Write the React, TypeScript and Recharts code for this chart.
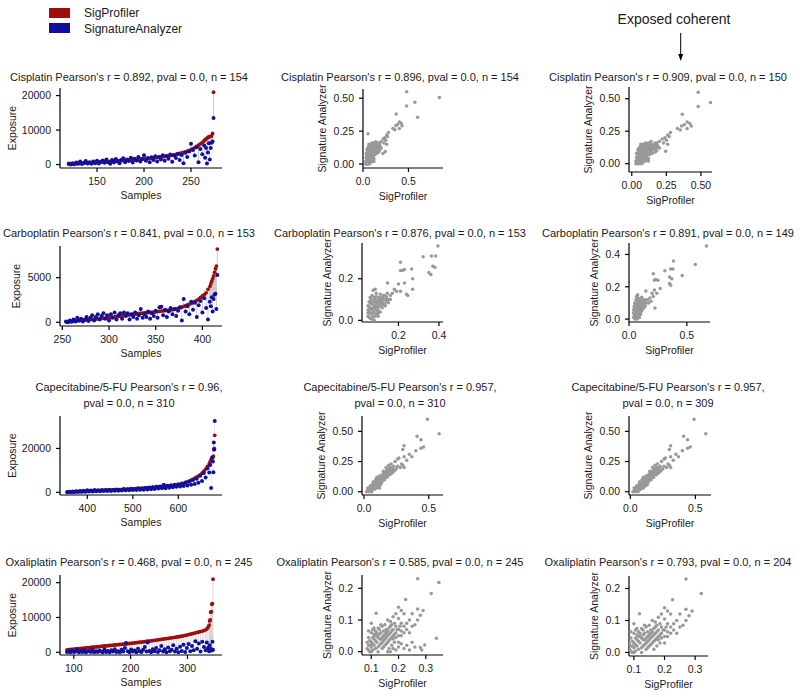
import React from "react";
import { ComposedChart, ScatterChart, Scatter, Bar, XAxis, YAxis } from "recharts";

const RED = "#a00d0d";
const BLUE = "#10109e";
const GREY = "#999999";
const FONT = '"Liberation Sans", Arial, sans-serif';
const INK = "#1a1a1a";

// exposure per sample: [sample, SigProfiler, SignatureAnalyzer]
const cisplatinRows = [
  [120, 100, 300], [122, 150, 50], [124, 200, 400], [126, 250, 100], [128, 300, 600], [130, 330, 200],
  [132, 360, 900], [134, 400, 150], [136, 430, 500], [138, 460, 1000], [140, 500, 300], [142, 530, 700],
  [144, 560, 200], [146, 600, 900], [148, 630, 400], [150, 660, 1100], [152, 700, 300], [154, 730, 800],
  [156, 760, 1200], [158, 800, 500], [160, 830, 1500], [162, 860, 700], [164, 900, 200], [166, 940, 1300],
  [168, 980, 600], [170, 1020, 1600], [172, 1060, 900], [174, 1100, 400], [176, 1140, 1400], [178, 1180, 1800],
  [180, 1220, 700], [182, 1260, 1500], [184, 1300, 1000], [186, 1340, 2000], [188, 1380, 600], [190, 1420, 1700],
  [192, 1460, 1200], [194, 1500, 2200], [196, 1540, 900], [198, 1580, 1600], [200, 1620, 2700], [202, 1680, 1100],
  [204, 1740, 1900], [206, 1800, 700], [208, 1860, 2100], [210, 1920, 1300], [212, 1990, 2400], [214, 2060, 900],
  [216, 2130, 2200], [218, 2200, 1500], [220, 2280, 2700], [222, 2360, 1100], [224, 2440, 2500], [226, 2530, 1700],
  [228, 2620, 2900], [230, 2720, 800], [232, 2820, 2600], [234, 2930, 1900], [236, 3050, 3100], [238, 3200, 1300],
  [240, 3350, 2800], [242, 3500, 400], [244, 3680, 3400], [246, 3860, 2200], [248, 4060, 3800], [250, 4300, 6000],
  [252, 4600, 4200], [254, 4900, 2600], [256, 5250, 5000], [258, 5600, 700], [260, 6000, 4500], [262, 6400, 3000],
  [264, 6900, 5500], [265, 7200, 2000], [266, 7400, 4800], [267, 7600, 300], [268, 7900, 3500], [269, 8000, 6200],
  [270, 8100, 1500], [271, 8200, 4800], [272, 8300, 6300], [273, 9000, 6700], [274, 21000, 13500],
];

const carboplatinRows = [
  [254, 50, 100], [256, 70, 0], [258, 90, 200], [260, 110, 50], [262, 130, 300], [264, 150, 100],
  [266, 170, 500], [268, 190, 200], [270, 210, 400], [272, 230, 100], [274, 250, 300], [276, 270, 600],
  [278, 290, 150], [280, 310, 500], [282, 330, 800], [284, 350, 200], [286, 370, 600], [288, 390, 900],
  [290, 410, 300], [292, 430, 700], [294, 450, 1000], [296, 470, 400], [298, 490, 800], [300, 510, 200],
  [302, 540, 900], [304, 570, 500], [306, 600, 1100], [308, 630, 300], [310, 660, 800], [312, 690, 1000],
  [314, 720, 400], [316, 750, 1100], [318, 780, 700], [320, 810, 1000], [322, 840, 300], [324, 870, 900],
  [326, 900, 600], [328, 930, 1100], [330, 960, 400], [332, 990, 800], [334, 1010, 1500], [336, 1030, 500],
  [338, 1050, 900], [340, 1070, 600], [342, 1090, 1200], [344, 1110, 400], [346, 1130, 1000], [348, 1150, 700],
  [350, 1170, 1300], [352, 1200, 500], [354, 1230, 1700], [356, 1260, 1750], [358, 1290, 800], [360, 1310, 1400],
  [362, 1330, 600], [364, 1360, 1200], [366, 1390, 1600], [368, 1420, 900], [370, 1450, 1500], [372, 1500, 700],
  [374, 1560, 1300], [376, 1620, 1700], [378, 1700, 200], [380, 1780, 2600], [382, 1860, 1200], [384, 1940, 1800],
  [386, 2030, 900], [388, 2120, 2300], [390, 2220, 1400], [392, 2330, 2200], [394, 2450, 600], [396, 2600, 1900],
  [398, 2800, 2400], [400, 2950, 1100], [402, 3100, 2700], [404, 3300, 1600], [406, 3700, 300], [408, 4000, 2300],
  [409, 4300, 1800], [410, 4600, 2800], [411, 4900, 1200], [412, 5200, 2600], [413, 5600, 3100], [414, 6000, 3200],
  [415, 6300, 1500], [416, 8200, 5300],
];

const capecitabineRows = [
  [356, 150, 50], [360, 180, 300], [364, 210, 100], [368, 240, 400], [372, 270, 150], [376, 300, 500],
  [380, 330, 200], [384, 360, 600], [388, 390, 250], [392, 420, 700], [396, 460, 300], [400, 500, 900],
  [404, 540, 350], [408, 580, 800], [412, 620, 400], [416, 660, 1000], [420, 700, 450], [424, 740, 900],
  [428, 780, 500], [432, 820, 1100], [436, 860, 550], [440, 900, 1000], [444, 940, 600], [448, 980, 1200],
  [452, 1020, 650], [456, 1060, 1100], [460, 1100, 700], [464, 1140, 1300], [468, 1180, 750], [472, 1220, 1200],
  [476, 1260, 800], [480, 1300, 1500], [484, 1340, 900], [488, 1380, 1400], [492, 1420, 950], [496, 1460, 1600],
  [500, 1500, 1000], [504, 1560, 1500], [508, 1620, 1100], [512, 1680, 1800], [516, 1740, 1150], [520, 1800, 1700],
  [524, 1860, 1200], [528, 1920, 2000], [532, 1990, 1300], [536, 2060, 2200], [540, 2130, 1400], [544, 2200, 2300],
  [548, 2280, 1500], [552, 2360, 2500], [556, 2440, 1700], [560, 2520, 2600], [564, 2600, 1800], [568, 2680, 3500],
  [572, 2760, 1900], [576, 2840, 3000], [580, 2920, 2100], [584, 3000, 3200], [588, 3080, 2300], [592, 3160, 3400],
  [596, 3240, 2500], [600, 3300, 3700], [604, 3550, 2700], [608, 3800, 4000], [612, 4100, 2900], [616, 4400, 4500],
  [620, 4750, 3100], [624, 5100, 4900], [628, 5500, 3500], [632, 5900, 5600], [636, 6400, 3800], [640, 6900, 6200],
  [644, 7400, 4300], [648, 7900, 7500], [652, 8700, 5200], [656, 9600, 8800], [660, 10600, 6800], [664, 11800, 11000],
  [668, 13000, 9000], [670, 14000, 12500], [672, 14800, 2000], [674, 15500, 15800], [676, 16000, 14000],
  [677, 16500, 9200], [678, 19500, 22700], [679, 20000, 19500], [680, 26000, 32500],
];

const oxaliplatinRows = [
  [88, 700, 100], [91, 750, 300], [94, 800, 0], [97, 850, 500], [100, 900, 100], [103, 950, 200],
  [106, 1000, 800], [109, 1050, 0], [112, 1100, 300], [115, 1150, 100], [118, 1200, 600], [121, 1250, 0],
  [124, 1300, 200], [127, 1350, 400], [130, 1400, 100], [133, 1450, 700], [136, 1500, 0], [139, 1550, 300],
  [142, 1600, 100], [145, 1650, 500], [148, 1700, 200], [151, 1750, 0], [154, 1800, 800], [157, 1850, 100],
  [160, 1900, 400], [163, 1950, 0], [166, 2000, 600], [169, 2050, 200], [172, 2100, 900], [175, 2150, 100],
  [178, 2200, 300], [181, 2250, 0], [184, 2300, 700], [187, 2340, 200], [190, 2380, 1200], [192, 2410, 2700],
  [195, 2460, 300], [198, 2520, 0], [201, 2580, 800], [204, 2640, 200], [207, 2700, 500], [210, 2760, 0],
  [213, 2820, 1000], [216, 2880, 300], [219, 2940, 100], [222, 3000, 700], [225, 3060, 1500], [228, 3120, 200],
  [230, 3170, 2800], [233, 3230, 400], [236, 3300, 0], [239, 3370, 900], [242, 3440, 300], [245, 3510, 1200],
  [248, 3580, 100], [251, 3650, 600], [254, 3720, 1800], [257, 3790, 200], [260, 3860, 900], [263, 3930, 0],
  [266, 4000, 1400], [269, 4070, 300], [272, 4150, 700], [275, 4230, 2000], [278, 4310, 200], [281, 4390, 1000],
  [284, 4460, 0], [287, 4530, 1600], [290, 4620, 400], [293, 4720, 2200], [296, 4830, 100], [299, 4950, 1200],
  [302, 5080, 2400], [305, 5200, 300], [308, 5330, 1800], [311, 5450, 600], [314, 5580, 3200], [317, 5700, 1000],
  [320, 5820, 2500], [323, 5950, 200], [326, 6100, 3000], [329, 6250, 1500], [332, 6450, 600], [334, 6700, 2800],
  [336, 7100, 1200], [338, 7800, 300], [339, 9000, 2000], [340, 9300, 600], [341, 11500, 1000], [342, 11700, 800],
  [343, 13800, 500], [344, 14000, 3000], [345, 21000, 700],
];

// normalised exposure pairs: [SigProfiler, Signature Analyzer]
const cisplatinCommon = [
  [0.48, 0.55], [0.57, 0.47], [0.48, 0.44], [0.365, 0.38], [0.4, 0.32], [0.42, 0.31], [0.38, 0.3], [0.36, 0.29],
  [0.33, 0.27], [0.35, 0.26], [0.4, 0.27], [0.43, 0.29], [0.26, 0.22], [0.24, 0.2], [0.27, 0.21], [0.25, 0.18],
  [0.22, 0.19], [0.23, 0.16], [0.26, 0.15], [0.2, 0.17], [0.245, 0.095], [0.18, 0.1], [0.28, 0.24],
  [0.04, 0.0], [0.05, 0.01], [0.06, 0.02], [0.04, 0.03], [0.07, 0.0], [0.05, 0.05], [0.08, 0.03], [0.06, 0.06],
  [0.09, 0.05], [0.1, 0.02], [0.07, 0.08], [0.05, 0.09], [0.11, 0.06], [0.12, 0.09], [0.08, 0.1], [0.1, 0.11],
  [0.13, 0.07], [0.06, 0.12], [0.09, 0.13], [0.12, 0.12], [0.14, 0.1], [0.11, 0.14], [0.15, 0.13], [0.08, 0.15],
  [0.13, 0.15], [0.16, 0.11], [0.17, 0.14], [0.1, 0.16], [0.18, 0.16], [0.14, 0.17], [0.07, 0.14], [0.05, 0.11],
  [0.04, 0.07], [0.06, 0.04], [0.09, 0.08], [0.12, 0.04], [0.15, 0.08], [0.16, 0.15], [0.19, 0.13], [0.2, 0.12],
  [0.03, 0.02], [0.05, 0.0], [0.08, 0.01], [0.11, 0.1], [0.13, 0.12], [0.17, 0.09], [0.07, 0.05], [0.1, 0.07],
  [0.14, 0.14], [0.12, 0.16], [0.035, 0.05], [0.045, 0.015], [0.055, 0.035], [0.065, 0.07], [0.075, 0.11],
  [0.085, 0.06], [0.095, 0.12], [0.105, 0.04], [0.115, 0.08], [0.125, 0.11], [0.135, 0.095], [0.145, 0.12],
  [0.155, 0.14], [0.165, 0.13], [0.175, 0.12], [0.185, 0.14], [0.045, 0.085], [0.055, 0.125], [0.065, 0.15],
  [0.075, 0.02], [0.085, 0.13], [0.095, 0.15], [0.105, 0.13], [0.115, 0.15], [0.125, 0.14], [0.135, 0.16],
  [0.04, 0.045], [0.06, 0.09], [0.08, 0.12], [0.1, 0.09], [0.12, 0.02], [0.14, 0.12], [0.03, 0.0], [0.05, 0.03],
  [0.07, 0.1], [0.09, 0.02], [0.11, 0.12], [0.13, 0.1], [0.15, 0.11], [0.17, 0.16], [0.035, 0.08], [0.045, 0.11],
  [0.055, 0.06], [0.065, 0.1], [0.075, 0.13], [0.085, 0.09], [0.095, 0.07], [0.065, 0.04], [0.075, 0.065],
];
const cisplatinAllOnly = [[0.84, 0.505], [0.6, 0.356], [0.055, 0.23], [0.22, 0.08]];

const carboplatinAll = [
  [0.395, 0.358], [0.322, 0.306], [0.363, 0.31], [0.384, 0.31], [0.37, 0.26], [0.38, 0.255], [0.35, 0.23],
  [0.36, 0.22], [0.21, 0.28], [0.21, 0.24], [0.23, 0.245], [0.22, 0.24], [0.265, 0.247], [0.27, 0.2], [0.27, 0.15],
  [0.23, 0.18], [0.2, 0.175], [0.246, 0.12], [0.24, 0.125], [0.21, 0.14], [0.146, 0.18], [0.18, 0.15], [0.19, 0.14],
  [0.17, 0.13], [0.16, 0.12], [0.15, 0.1], [0.14, 0.11],
  [0.05, 0.02], [0.055, 0.04], [0.06, 0.01], [0.06, 0.06], [0.065, 0.03], [0.07, 0.05], [0.07, 0.08], [0.075, 0.02],
  [0.08, 0.04], [0.08, 0.07], [0.085, 0.1], [0.09, 0.03], [0.09, 0.06], [0.095, 0.09], [0.1, 0.05], [0.1, 0.08],
  [0.105, 0.11], [0.11, 0.07], [0.11, 0.04], [0.115, 0.1], [0.12, 0.06], [0.12, 0.09], [0.125, 0.12], [0.13, 0.08],
  [0.13, 0.1], [0.135, 0.07], [0.14, 0.09], [0.145, 0.13], [0.05, 0.07], [0.055, 0.09], [0.06, 0.11], [0.065, 0.08],
  [0.07, 0.12], [0.075, 0.145], [0.085, 0.15], [0.09, 0.13], [0.1, 0.02], [0.08, 0.0], [0.07, 0.005], [0.095, 0.045],
  [0.105, 0.065], [0.115, 0.085], [0.05, 0.05], [0.06, 0.035], [0.15, 0.085], [0.16, 0.1], [0.125, 0.075],
  [0.085, 0.055], [0.11, 0.125], [0.14, 0.115], [0.055, 0.015], [0.065, 0.055], [0.075, 0.035], [0.085, 0.075],
  [0.095, 0.025], [0.105, 0.095], [0.065, 0.1], [0.075, 0.06], [0.085, 0.02], [0.095, 0.065], [0.1, 0.1],
  [0.11, 0.09], [0.12, 0.11], [0.13, 0.12], [0.07, 0.095], [0.08, 0.11], [0.09, 0.085], [0.1, 0.035],
  [0.06, 0.085], [0.05, 0.035], [0.055, 0.065], [0.12, 0.08], [0.135, 0.1], [0.09, 0.115], [0.08, 0.09],
];
const carboplatinCoherent = [
  [0.669, 0.453], [0.573, 0.338], [0.384, 0.359], [0.46, 0.27], [0.31, 0.3], [0.36, 0.31], [0.38, 0.31],
  [0.35, 0.26], [0.37, 0.25], [0.35, 0.22], [0.36, 0.21], [0.21, 0.28], [0.22, 0.24], [0.25, 0.24], [0.23, 0.245],
  [0.27, 0.19], [0.24, 0.16], [0.22, 0.18], [0.21, 0.14], [0.146, 0.174], [0.224, 0.068], [0.18, 0.13], [0.16, 0.12],
  [0.2, 0.16], [0.19, 0.11], [0.17, 0.1],
  [0.04, 0.01], [0.045, 0.03], [0.05, 0.0], [0.05, 0.05], [0.055, 0.02], [0.06, 0.04], [0.06, 0.07], [0.065, 0.01],
  [0.07, 0.03], [0.07, 0.06], [0.075, 0.09], [0.08, 0.02], [0.08, 0.05], [0.085, 0.08], [0.09, 0.04], [0.09, 0.07],
  [0.095, 0.11], [0.1, 0.06], [0.1, 0.03], [0.105, 0.09], [0.11, 0.05], [0.11, 0.08], [0.115, 0.12], [0.12, 0.07],
  [0.12, 0.1], [0.125, 0.065], [0.13, 0.09], [0.135, 0.12], [0.04, 0.06], [0.045, 0.08], [0.05, 0.1], [0.055, 0.07],
  [0.06, 0.12], [0.065, 0.14], [0.075, 0.15], [0.08, 0.13], [0.09, 0.01], [0.07, 0.0], [0.085, 0.04], [0.095, 0.055],
  [0.105, 0.075], [0.04, 0.04], [0.14, 0.08], [0.15, 0.1], [0.11, 0.135], [0.13, 0.11], [0.045, 0.015],
  [0.055, 0.045], [0.065, 0.035], [0.075, 0.065], [0.085, 0.025], [0.095, 0.085], [0.055, 0.095], [0.065, 0.075],
  [0.075, 0.115], [0.085, 0.1], [0.1, 0.12], [0.11, 0.1], [0.05, 0.025], [0.06, 0.055], [0.07, 0.045],
  [0.08, 0.085], [0.09, 0.095], [0.1, 0.045], [0.12, 0.085], [0.06, 0.1], [0.07, 0.13], [0.045, 0.055],
];

const capecitabineCommon = [
  [0.49, 0.6], [0.58, 0.48], [0.41, 0.46], [0.44, 0.43], [0.46, 0.37], [0.44, 0.36], [0.4, 0.34], [0.31, 0.38],
  [0.3, 0.35], [0.35, 0.31], [0.37, 0.29], [0.31, 0.29], [0.33, 0.26], [0.3, 0.22], [0.26, 0.27], [0.27, 0.28],
  [0.26, 0.21], [0.28, 0.2], [0.29, 0.23], [0.31, 0.2], [0.21, 0.23], [0.22, 0.2], [0.24, 0.25], [0.25, 0.19],
  [0.23, 0.17],
  [0.02, 0.0], [0.03, 0.01], [0.04, 0.0], [0.05, 0.02], [0.04, 0.03], [0.06, 0.01], [0.06, 0.04], [0.07, 0.03],
  [0.08, 0.05], [0.07, 0.06], [0.09, 0.04], [0.09, 0.07], [0.1, 0.06], [0.1, 0.09], [0.11, 0.08], [0.12, 0.07],
  [0.11, 0.11], [0.12, 0.1], [0.13, 0.09], [0.13, 0.12], [0.14, 0.11], [0.14, 0.14], [0.15, 0.12], [0.15, 0.15],
  [0.16, 0.13], [0.16, 0.16], [0.17, 0.14], [0.17, 0.17], [0.18, 0.15], [0.18, 0.18], [0.19, 0.16], [0.19, 0.19],
  [0.2, 0.17], [0.2, 0.2], [0.21, 0.18], [0.22, 0.19], [0.18, 0.12], [0.2, 0.14], [0.22, 0.16], [0.16, 0.1],
  [0.14, 0.08], [0.12, 0.05], [0.1, 0.03], [0.08, 0.02], [0.06, 0.0], [0.05, 0.05], [0.08, 0.08], [0.1, 0.12],
  [0.12, 0.13], [0.15, 0.17], [0.17, 0.2], [0.19, 0.22], [0.23, 0.21], [0.24, 0.18], [0.21, 0.15], [0.13, 0.06],
  [0.11, 0.05], [0.09, 0.1], [0.07, 0.08], [0.03, 0.03], [0.035, 0.015], [0.045, 0.01], [0.055, 0.03],
  [0.065, 0.02], [0.075, 0.045], [0.085, 0.035], [0.095, 0.06], [0.105, 0.05], [0.115, 0.07], [0.125, 0.09],
  [0.135, 0.08], [0.145, 0.1], [0.155, 0.11], [0.165, 0.12], [0.175, 0.13], [0.185, 0.14], [0.195, 0.15],
  [0.205, 0.16], [0.215, 0.17], [0.055, 0.05], [0.065, 0.055], [0.085, 0.065], [0.105, 0.08], [0.125, 0.1],
  [0.145, 0.13], [0.165, 0.15], [0.185, 0.17], [0.205, 0.19], [0.095, 0.075], [0.115, 0.095], [0.135, 0.115],
  [0.155, 0.135], [0.175, 0.155], [0.225, 0.18], [0.08, 0.035], [0.1, 0.045],
];
const capecitabineAllOnly = [[0.12, 0.03]];

const oxaliplatinCommon = [
  [0.27, 0.23], [0.348, 0.218], [0.32, 0.184], [0.226, 0.165], [0.118, 0.121], [0.2, 0.14], [0.21, 0.13],
  [0.19, 0.12], [0.22, 0.12], [0.27, 0.135], [0.29, 0.13], [0.28, 0.115], [0.27, 0.1], [0.26, 0.085], [0.24, 0.1],
  [0.25, 0.12], [0.23, 0.09], [0.2, 0.105], [0.18, 0.11], [0.17, 0.08], [0.1, 0.09], [0.105, 0.07], [0.16, 0.1],
  [0.15, 0.085], [0.22, 0.08], [0.24, 0.06], [0.21, 0.065],
  [0.085, 0.01], [0.09, 0.02], [0.095, 0.0], [0.1, 0.03], [0.1, 0.015], [0.105, 0.005], [0.11, 0.02], [0.11, 0.04],
  [0.115, 0.01], [0.12, 0.03], [0.12, 0.05], [0.125, 0.0], [0.13, 0.02], [0.13, 0.04], [0.135, 0.06], [0.14, 0.01],
  [0.14, 0.03], [0.145, 0.05], [0.15, 0.02], [0.15, 0.04], [0.155, 0.07], [0.16, 0.03], [0.16, 0.05], [0.165, 0.01],
  [0.17, 0.04], [0.17, 0.06], [0.175, 0.02], [0.18, 0.05], [0.18, 0.07], [0.185, 0.03], [0.19, 0.06], [0.19, 0.08],
  [0.2, 0.05], [0.2, 0.07], [0.21, 0.09], [0.12, 0.06], [0.13, 0.07], [0.14, 0.08], [0.11, 0.055], [0.095, 0.035],
  [0.09, 0.045], [0.1, 0.06], [0.125, 0.015], [0.135, 0.025], [0.145, 0.035], [0.155, 0.045], [0.165, 0.055],
  [0.175, 0.065], [0.185, 0.09], [0.2, 0.03], [0.23, 0.07], [0.25, 0.08], [0.09, 0.005], [0.1, 0.0],
  [0.105, 0.025], [0.115, 0.035], [0.125, 0.045], [0.135, 0.04], [0.145, 0.015], [0.155, 0.025], [0.165, 0.035],
  [0.175, 0.045], [0.185, 0.055], [0.195, 0.07], [0.205, 0.08], [0.115, 0.065], [0.125, 0.075], [0.135, 0.085],
  [0.145, 0.065], [0.155, 0.06], [0.165, 0.075], [0.175, 0.085], [0.095, 0.02], [0.105, 0.045], [0.115, 0.05],
  [0.13, 0.055], [0.14, 0.045], [0.15, 0.055], [0.16, 0.065], [0.17, 0.095], [0.18, 0.04], [0.19, 0.045],
  [0.21, 0.05], [0.22, 0.06], [0.085, 0.03], [0.09, 0.065], [0.11, 0.075],
];
const oxaliplatinAllOnly = [
  [0.285, 0.005], [0.296, 0.021], [0.28, 0.013], [0.339, 0.042], [0.25, 0.03], [0.22, 0.01], [0.19, 0.005],
  [0.2, 0.015], [0.17, 0.0], [0.23, 0.02], [0.16, 0.0], [0.21, 0.025], [0.26, 0.015], [0.24, 0.005], [0.18, 0.01],
];

const exposureTitles = [
  ["Cisplatin Pearson's r = 0.892, pval = 0.0, n = 154"],
  ["Carboplatin Pearson's r = 0.841, pval = 0.0, n = 153"],
  ["Capecitabine/5-FU Pearson's r = 0.96,", "pval = 0.0, n = 310"],
  ["Oxaliplatin Pearson's r = 0.468, pval = 0.0, n = 245"],
];
const allTitles = [
  ["Cisplatin Pearson's r = 0.896, pval = 0.0, n = 154"],
  ["Carboplatin Pearson's r = 0.876, pval = 0.0, n = 153"],
  ["Capecitabine/5-FU Pearson's r = 0.957,", "pval = 0.0, n = 310"],
  ["Oxaliplatin Pearson's r = 0.585, pval = 0.0, n = 245"],
];
const coherentTitles = [
  ["Cisplatin Pearson's r = 0.909, pval = 0.0, n = 150"],
  ["Carboplatin Pearson's r = 0.891, pval = 0.0, n = 149"],
  ["Capecitabine/5-FU Pearson's r = 0.957,", "pval = 0.0, n = 309"],
  ["Oxaliplatin Pearson's r = 0.793, pval = 0.0, n = 204"],
];

const titleY = [77, 233, 395, 562];

const tickStyle = { fontSize: 10.5, fill: INK, fontFamily: FONT };
const axisStyle = { stroke: "#000", strokeWidth: 1.2 };
const labelStyle = { fontSize: 10.5, fill: INK, fontFamily: FONT };

const redDot = (p: any) => <circle cx={p.cx} cy={p.cy} r={1.9} fill={RED} />;
const blueDot = (p: any) => <circle cx={p.cx} cy={p.cy} r={2} fill={BLUE} />;
const greyDot = (p: any) => <circle cx={p.cx} cy={p.cy} r={1.75} fill={GREY} />;

const Title = ({ cx, cy, lines }: { cx: number; cy: number; lines: string[] }) => (
  <div
    style={{
      position: "absolute", left: cx - 170, width: 340, top: cy - lines.length * 8,
      fontSize: 11, lineHeight: "16px", textAlign: "center", whiteSpace: "nowrap", color: INK,
    }}
  >
    {lines.map((l) => <div key={l}>{l}</div>)}
  </div>
);

const ExposurePanel = ({ rows, plotTop, plotBottom, xDomain, yDomain, xTicks, yTicks, labelX }: any) => {
  const data = rows.map(([sample, sp, sa]: number[]) => ({
    sample, sp, sa, gap: [Math.min(sp, sa), Math.max(sp, sa)],
  }));
  const top = 4;
  const bottom = 36;
  return (
    <div style={{ position: "absolute", left: 0, top: plotTop - top }}>
      <ComposedChart width={230} height={top + plotBottom - plotTop + bottom} data={data}
        margin={{ top, right: 8, bottom: 0, left: 0 }}>
        <XAxis type="number" dataKey="sample" domain={xDomain} ticks={xTicks} allowDataOverflow interval={0}
          height={bottom} tickSize={4} tickMargin={6} tick={tickStyle} axisLine={axisStyle} tickLine={axisStyle}
          label={{ value: "Samples", position: "insideBottom", offset: 5, style: labelStyle }} />
        <YAxis type="number" domain={yDomain} ticks={yTicks} allowDataOverflow interval={0} width={60}
          tickSize={4} tickMargin={5} tick={tickStyle} axisLine={axisStyle} tickLine={axisStyle}
          label={{ value: "Exposure", angle: -90, position: "insideLeft", offset: labelX, style: { ...labelStyle, textAnchor: "middle" } }} />
        <Bar dataKey="gap" fill="#c2c2c2" barSize={1} isAnimationActive={false} />
        <Scatter dataKey="sp" fill={RED} shape={redDot} isAnimationActive={false} />
        <Scatter dataKey="sa" fill={BLUE} shape={blueDot} isAnimationActive={false} />
      </ComposedChart>
    </div>
  );
};

const ScatterPanel = ({ points, plot, xDomain, yDomain, xTicks, yTicks, xDigits, yDigits }: any) => {
  const [x0, y0, x1, y1] = plot;
  const left = 50;
  const right = 10;
  const top = 6;
  const bottom = 40;
  const data = points.map(([x, y]: number[]) => ({ x, y }));
  const labelGap = yDigits === 2 ? 41 : 35;
  return (
    <div style={{ position: "absolute", left: x0 - left, top: y0 - top }}>
      <ScatterChart width={left + x1 - x0 + right} height={top + y1 - y0 + bottom}
        margin={{ top, right, bottom: 0, left: 0 }}>
        <XAxis type="number" dataKey="x" domain={xDomain} ticks={xTicks} allowDataOverflow interval={0}
          tickFormatter={(v: number) => v.toFixed(xDigits)} height={bottom} tickSize={4} tickMargin={6}
          tick={tickStyle} axisLine={axisStyle} tickLine={axisStyle}
          label={{ value: "SigProfiler", position: "insideBottom", offset: 8, style: labelStyle }} />
        <YAxis type="number" dataKey="y" domain={yDomain} ticks={yTicks} allowDataOverflow interval={0}
          tickFormatter={(v: number) => v.toFixed(yDigits)} width={left} tickSize={4} tickMargin={5}
          tick={tickStyle} axisLine={axisStyle} tickLine={axisStyle}
          label={{ value: "Signature Analyzer", angle: -90, position: "insideLeft", offset: left - labelGap, style: { ...labelStyle, textAnchor: "middle" } }} />
        <Scatter data={data} fill={GREY} shape={greyDot} isAnimationActive={false} />
      </ScatterChart>
    </div>
  );
};

export default function App() {
  return (
    <div style={{ position: "absolute", left: 0, top: 0, width: 800, height: 697, background: "#fff", fontFamily: FONT, overflow: "hidden" }}>
      {/* legend */}
      <div style={{ position: "absolute", left: 49, top: 8, width: 21, height: 10, background: RED }} />
      <div style={{ position: "absolute", left: 49, top: 23, width: 21, height: 10, background: BLUE }} />
      <div style={{ position: "absolute", left: 84, top: 5, fontSize: 12, lineHeight: "16px", color: INK }}>SigProfiler</div>
      <div style={{ position: "absolute", left: 84, top: 21, fontSize: 12, lineHeight: "16px", color: INK }}>SignatureAnalyzer</div>

      {/* annotation */}
      <div style={{ position: "absolute", left: 594, width: 160, top: 9, fontSize: 14, lineHeight: "20px", textAlign: "center", color: INK }}>
        Exposed coherent
      </div>
      <svg style={{ position: "absolute", left: 670, top: 30 }} width={20} height={36}>
        <line x1={10.7} y1={3} x2={10.7} y2={26} stroke="#000" strokeWidth={1} />
        <path d="M8.2,24 L13.2,24 L10.7,31 Z" fill="#000" />
      </svg>

      {exposureTitles.map((t, i) => <Title key={"e" + i} cx={129} cy={titleY[i]} lines={t} />)}
      {allTitles.map((t, i) => <Title key={"a" + i} cx={400} cy={titleY[i]} lines={t} />)}
      {coherentTitles.map((t, i) => <Title key={"c" + i} cx={668} cy={titleY[i]} lines={t} />)}

      <ExposurePanel rows={cisplatinRows} plotTop={88} plotBottom={168} xDomain={[110.6, 283]} yDomain={[-1000, 22200]}
        xTicks={[150, 200, 250]} yTicks={[0, 10000, 20000]} labelX={12} />
      <ExposurePanel rows={carboplatinRows} plotTop={246} plotBottom={326} xDomain={[247.5, 421]} yDomain={[-415, 8550]}
        xTicks={[250, 300, 350, 400]} yTicks={[0, 5000]} labelX={16} />
      <ExposurePanel rows={capecitabineRows} plotTop={416} plotBottom={495} xDomain={[340, 696]} yDomain={[-1230, 34800]}
        xTicks={[400, 500, 600]} yTicks={[0, 20000]} labelX={12} />
      <ExposurePanel rows={oxaliplatinRows} plotTop={575} plotBottom={655} xDomain={[75.7, 360.8]} yDomain={[-780, 22200]}
        xTicks={[100, 200, 300]} yTicks={[0, 10000, 20000]} labelX={12} />

      <ScatterPanel points={[...cisplatinCommon, ...cisplatinAllOnly]} plot={[363, 89, 443, 168]}
        xDomain={[0, 0.88]} yDomain={[-0.03, 0.57]} xTicks={[0, 0.5]} yTicks={[0, 0.25, 0.5]} xDigits={1} yDigits={2} />
      <ScatterPanel points={cisplatinCommon} plot={[629, 87, 712, 172]}
        xDomain={[-0.02, 0.58]} yDomain={[-0.064, 0.59]} xTicks={[0, 0.25, 0.5]} yTicks={[0, 0.25, 0.5]} xDigits={2} yDigits={2} />

      <ScatterPanel points={carboplatinAll} plot={[362, 243, 443, 322]}
        xDomain={[0.02, 0.42]} yDomain={[-0.008, 0.372]} xTicks={[0.2, 0.4]} yTicks={[0, 0.2]} xDigits={1} yDigits={1} />
      <ScatterPanel points={carboplatinCoherent} plot={[629, 243, 710, 322]}
        xDomain={[0, 0.7]} yDomain={[-0.018, 0.471]} xTicks={[0, 0.5]} yTicks={[0, 0.2, 0.4]} xDigits={1} yDigits={1} />

      <ScatterPanel points={[...capecitabineCommon, ...capecitabineAllOnly]} plot={[362, 416, 443, 495]}
        xDomain={[-0.015, 0.61]} yDomain={[-0.027, 0.627]} xTicks={[0, 0.5]} yTicks={[0, 0.25, 0.5]} xDigits={1} yDigits={2} />
      <ScatterPanel points={capecitabineCommon} plot={[629, 416, 711, 495]}
        xDomain={[-0.01, 0.62]} yDomain={[-0.027, 0.627]} xTicks={[0, 0.5]} yTicks={[0, 0.25, 0.5]} xDigits={1} yDigits={2} />

      <ScatterPanel points={[...oxaliplatinCommon, ...oxaliplatinAllOnly]} plot={[362, 575, 443, 655]}
        xDomain={[0.066, 0.363]} yDomain={[-0.0105, 0.242]} xTicks={[0.1, 0.2, 0.3]} yTicks={[0, 0.1, 0.2]} xDigits={1} yDigits={1} />
      <ScatterPanel points={oxaliplatinCommon} plot={[629, 576, 708, 656]}
        xDomain={[0.084, 0.342]} yDomain={[-0.011, 0.239]} xTicks={[0.1, 0.2, 0.3]} yTicks={[0, 0.1, 0.2]} xDigits={1} yDigits={1} />
    </div>
  );
}
